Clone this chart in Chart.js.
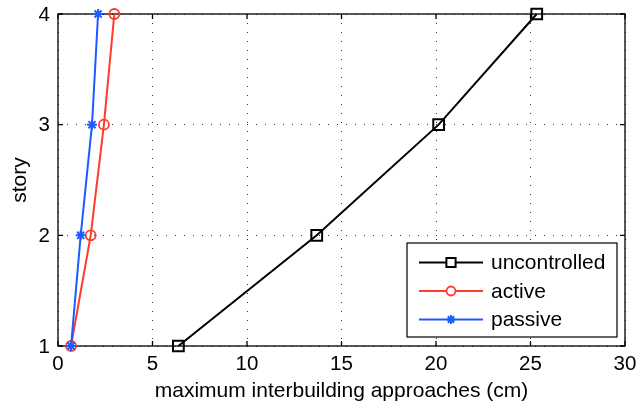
<!DOCTYPE html>
<html>
<head>
<meta charset="utf-8">
<script src="https://cdn.jsdelivr.net/npm/chart.js@4"></script>
<style>
html,body{margin:0;padding:0;background:#fff;}
#wrap{width:636px;height:405px;}
</style>
</head>
<body>
<div id="wrap"><canvas id="c" width="636" height="405"></canvas></div>
<script>
const stories = [1, 2, 3, 4];
const uncontrolled = [6.37, 13.69, 20.14, 25.33];
const active = [0.69, 1.73, 2.43, 2.98];
const passive = [0.69, 1.20, 1.80, 2.12];
const xTicks = [0, 5, 10, 15, 20, 25, 30];
const yTicks = [1, 2, 3, 4];
const seriesLabels = ['uncontrolled', 'active', 'passive'];
const xTitle = 'maximum interbuilding approaches (cm)';
const yTitle = 'story';

const FONT = '"Liberation Sans", Arial, Helvetica, sans-serif';
const RED = '#ff3b2b';
const BLUE = '#1a5cff';

function pts(xs) { return xs.map((x, i) => ({x: x, y: stories[i]})); }

const boxPlugin = {
  id: 'box',
  beforeDatasetsDraw(chart) {
    const ctx = chart.ctx, a = chart.chartArea;
    const xs = chart.scales.x, ys = chart.scales.y;
    ctx.save();
    ctx.strokeStyle = '#000';
    ctx.lineWidth = 1.3;
    ctx.strokeRect(a.left, a.top, a.right - a.left, a.bottom - a.top);
    ctx.beginPath();
    xTicks.forEach(v => {
      const px = xs.getPixelForValue(v);
      ctx.moveTo(px, a.bottom); ctx.lineTo(px, a.bottom - 5);
      ctx.moveTo(px, a.top); ctx.lineTo(px, a.top + 5);
    });
    yTicks.forEach(v => {
      const py = ys.getPixelForValue(v);
      ctx.moveTo(a.left, py); ctx.lineTo(a.left + 5, py);
      ctx.moveTo(a.right, py); ctx.lineTo(a.right - 5, py);
    });
    ctx.stroke();
    ctx.fillStyle = '#000';
    ctx.font = '20.5px ' + FONT;
    ctx.textAlign = 'center';
    ctx.textBaseline = 'top';
    xTicks.forEach(v => {
      ctx.fillText(String(v), xs.getPixelForValue(v), a.bottom + 8);
    });
    ctx.textAlign = 'right';
    ctx.textBaseline = 'middle';
    yTicks.forEach(v => {
      ctx.fillText(String(v), a.left - 8, ys.getPixelForValue(v) + 1);
    });
    ctx.restore();
  },
  afterDraw(chart) {
    const ctx = chart.ctx;
    const lx = 407, ly = 243, lw = 210, lh = 94;
    ctx.save();
    ctx.fillStyle = '#fff';
    ctx.fillRect(lx, ly, lw, lh);
    ctx.strokeStyle = '#000';
    ctx.lineWidth = 1.2;
    ctx.strokeRect(lx, ly, lw, lh);
    [0, 1, 2].forEach((di, row) => {
      const ds = chart.data.datasets[di];
      const y = 262.5 + row * 28.5;
      ctx.strokeStyle = ds.borderColor;
      ctx.lineWidth = 2;
      ctx.beginPath();
      ctx.moveTo(419, y); ctx.lineTo(483, y);
      ctx.stroke();
      ctx.fillStyle = '#fff';
      ctx.strokeStyle = ds.borderColor;
      ctx.lineWidth = ds.pointBorderWidth;
      Chart.helpers.drawPoint(ctx, {
        pointStyle: ds.pointStyle,
        radius: ds.legendRadius,
        borderWidth: ds.pointBorderWidth,
        rotation: 0
      }, 451, y);
      ctx.fillStyle = '#000';
      ctx.font = '21px ' + FONT;
      ctx.textBaseline = 'middle';
      ctx.textAlign = 'left';
      ctx.fillText(ds.label, 491, y + 1);
    });
    ctx.restore();
  }
};

const chart = new Chart(document.getElementById('c'), {
  type: 'scatter',
  data: {
    datasets: [
      {
        label: seriesLabels[0], data: pts(uncontrolled), showLine: true, clip: false,
        borderColor: '#000', backgroundColor: 'rgba(0,0,0,0)', borderWidth: 2,
        pointStyle: 'rect', pointRadius: 7.6, pointBorderWidth: 2,
        pointBackgroundColor: 'rgba(0,0,0,0)', pointBorderColor: '#000',
        legendRadius: 6.5, order: 2
      },
      {
        label: seriesLabels[1], data: pts(active), showLine: true, clip: false,
        borderColor: RED, backgroundColor: 'rgba(0,0,0,0)', borderWidth: 2,
        pointStyle: 'circle', pointRadius: 5, pointBorderWidth: 1.8,
        pointBackgroundColor: 'rgba(0,0,0,0)', pointBorderColor: RED,
        legendRadius: 4.5, order: 1
      },
      {
        label: seriesLabels[2], data: pts(passive), showLine: true, clip: false,
        borderColor: BLUE, backgroundColor: 'rgba(0,0,0,0)', borderWidth: 2,
        pointStyle: 'star', pointRadius: 5, pointBorderWidth: 2,
        pointBackgroundColor: 'rgba(0,0,0,0)', pointBorderColor: BLUE,
        legendRadius: 4.5, order: 0
      }
    ]
  },
  options: {
    responsive: false,
    animation: false,
    devicePixelRatio: 1,
    layout: {padding: {left: 0, right: 11, top: 14, bottom: 0}},
    plugins: {legend: {display: false}, tooltip: {enabled: false}},
    elements: {line: {tension: 0}},
    scales: {
      x: {
        type: 'linear', min: 0, max: 30,
        afterBuildTicks(s) { s.ticks = xTicks.map(v => ({value: v})); },
        afterFit(s) { s.height = 59; },
        grid: {color: '#333', lineWidth: 1, drawTicks: false},
        border: {display: false, dash: [1, 8]},
        ticks: {display: false},
        title: {display: true, text: xTitle, color: '#000', font: {family: FONT, size: 21}, padding: {top: 0, bottom: 1}}
      },
      y: {
        type: 'linear', min: 1, max: 4,
        afterBuildTicks(s) { s.ticks = yTicks.map(v => ({value: v})); },
        afterFit(s) { s.width = 58; },
        grid: {color: '#333', lineWidth: 1, drawTicks: false},
        border: {display: false, dash: [1, 8]},
        ticks: {display: false},
        title: {display: true, text: yTitle, color: '#000', font: {family: FONT, size: 21}, padding: {top: 8, bottom: 0}}
      }
    }
  },
  plugins: [boxPlugin]
});
</script>
</body>
</html>
